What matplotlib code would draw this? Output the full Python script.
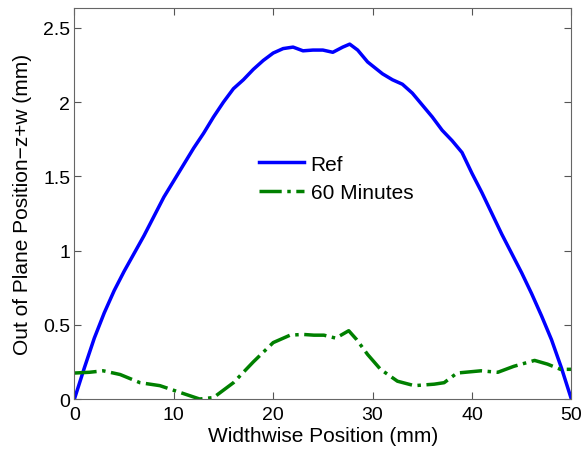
import numpy as np
import matplotlib
matplotlib.use("Agg")
import matplotlib.pyplot as plt

plt.rcParams["font.family"] = ["Liberation Sans", "DejaVu Sans"]

# Ref curve (mm)
ref_x = [0, 1, 2, 3, 4, 5, 6, 7, 8, 9, 10, 11, 12, 13, 14, 15, 16, 17, 18, 19,
         20, 21, 22, 23, 24, 25, 26, 27, 27.7, 28.5, 29.5, 31, 32, 33, 34, 35,
         36, 37, 38, 39, 40, 41, 42, 43, 44, 45, 46, 47, 48, 49, 50]
ref_y = [0, 0.21, 0.41, 0.58, 0.73, 0.86, 0.98, 1.10, 1.23, 1.36, 1.47, 1.58,
         1.69, 1.79, 1.90, 2.00, 2.09, 2.15, 2.22, 2.28, 2.33, 2.36, 2.37,
         2.345, 2.35, 2.35, 2.335, 2.37, 2.39, 2.35, 2.27, 2.19, 2.15, 2.12,
         2.06, 1.98, 1.90, 1.81, 1.74, 1.66, 1.52, 1.39, 1.25, 1.11, 0.98,
         0.85, 0.71, 0.56, 0.40, 0.21, 0]

# 60 minutes curve
m60_x = [0, 1.5, 2.9, 4.6, 6.6, 8.6, 10.6, 12.6, 14.0, 16.0, 18.0, 20.0,
         21.7, 23.0, 24.1, 25.1, 26.3, 27.6, 28.4, 29.5, 30.8, 32.5, 34.2,
         36.2, 37.2, 38.5, 40.9, 42.6, 44.2, 46.3, 47.6, 48.9, 50]
m60_y = [0.175, 0.18, 0.19, 0.165, 0.11, 0.09, 0.045, 0.0, 0.01, 0.11, 0.25,
         0.38, 0.43, 0.435, 0.43, 0.43, 0.41, 0.46, 0.40, 0.30, 0.20, 0.12,
         0.09, 0.10, 0.11, 0.175, 0.19, 0.18, 0.22, 0.26, 0.235, 0.20, 0.20]

fig = plt.figure(figsize=(5.86, 4.52), dpi=100)
ax = fig.add_axes([0.127, 0.115, 0.848, 0.864])

ax.plot(ref_x, ref_y, color="#0000ff", lw=2.5, label="Ref")
ax.plot(m60_x, m60_y, color="#008000", lw=2.5, ls="-.", label="60 Minutes")

ax.set_xlim(0, 50)
ax.set_ylim(0, 2.63)
ax.set_xticks([0, 10, 20, 30, 40, 50])
ax.set_yticks([0, 0.5, 1, 1.5, 2, 2.5])
ax.set_yticklabels(["0", "0.5", "1", "1.5", "2", "2.5"])
ax.tick_params(direction="in", top=True, right=True, length=5,
               labelsize=14, color="#555555")
ax.tick_params(axis="x", pad=5)
ax.tick_params(axis="y", pad=3)
for s in ax.spines.values():
    s.set_color("#666666")
    s.set_linewidth(0.8)

ax.set_xlabel("Widthwise Position (mm)", fontsize=15, labelpad=2)
ax.set_ylabel("Out of Plane Position\u2212z+w (mm)", fontsize=15, labelpad=8)

ax.legend(loc="center left", bbox_to_anchor=(0.333, 0.565), frameon=False,
          fontsize=15, handlelength=2.2, handletextpad=0.3, labelspacing=0.45)

fig.savefig("out.png", dpi=100)
